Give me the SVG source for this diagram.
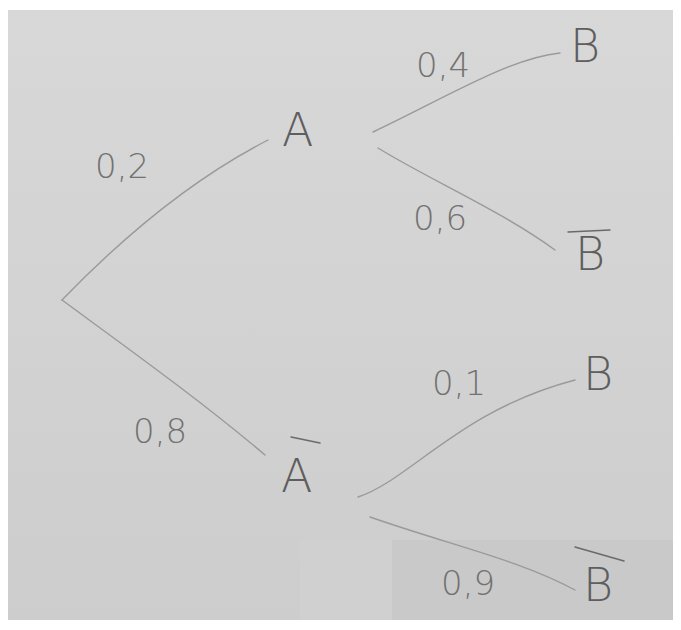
<svg xmlns="http://www.w3.org/2000/svg" width="681" height="630" viewBox="0 0 681 630">
<defs>
<linearGradient id="bg" x1="0" y1="0" x2="0" y2="1">
<stop offset="0" stop-color="#d8d8d8"/>
<stop offset="1" stop-color="#cdcdcd"/>
</linearGradient>
<style>
.edge{fill:none;stroke:#9a9a9a;stroke-width:1.4;stroke-linecap:round}
.bar{stroke:#6a6a6a;stroke-width:1.4;stroke-linecap:round}
.lbl{font-family:"DejaVu Sans","Liberation Sans",sans-serif;font-weight:200;fill:#727272;font-size:34px}
.nd{font-family:"DejaVu Sans","Liberation Sans",sans-serif;font-weight:200;fill:#5e5e5e;font-size:46px}
</style>
</defs>
<rect width="681" height="630" fill="#ffffff"/>
<rect x="8" y="10" width="665" height="610" fill="url(#bg)"/>
<rect x="392" y="540" width="281" height="80" fill="#c9c9c9"/>
<rect x="300" y="540" width="92" height="80" fill="#d0d0d0"/>
<g id="connectors">
<path class="edge" d="M62,300 C120,240 190,180 268,140"/>
<path class="edge" d="M62,300 C130,350 200,400 265,455"/>
<path class="edge" d="M373,132 C445,98 510,58 560,53"/>
<path class="edge" d="M378,148 C430,180 500,210 555,250"/>
<path class="edge" d="M358,497 C410,480 460,410 575,380"/>
<path class="edge" d="M370,517 C450,545 520,560 575,590"/>
</g>
<g id="labels">
<text class="lbl" x="95" y="178">0,2</text>
<text class="lbl" x="416" y="77">0,4</text>
<text class="lbl" x="413" y="230">0,6</text>
<text class="lbl" x="133" y="443">0,8</text>
<text class="lbl" x="432" y="395">0,1</text>
<text class="lbl" x="441" y="595">0,9</text>
</g>
<g id="node-A"><text class="nd" x="282" y="146">A</text></g>
<g id="node-notA"><text class="nd" x="281" y="492">A</text><line class="bar" x1="291" y1="437" x2="320" y2="443"/></g>
<g id="node-B1"><text class="nd" x="570" y="62">B</text></g>
<g id="node-notB1"><text class="nd" x="575" y="270">B</text><line class="bar" x1="568" y1="232" x2="610" y2="230"/></g>
<g id="node-B2"><text class="nd" x="583" y="390">B</text></g>
<g id="node-notB2"><text class="nd" x="583" y="601">B</text><line class="bar" x1="575" y1="547" x2="624" y2="561"/></g>
</svg>
